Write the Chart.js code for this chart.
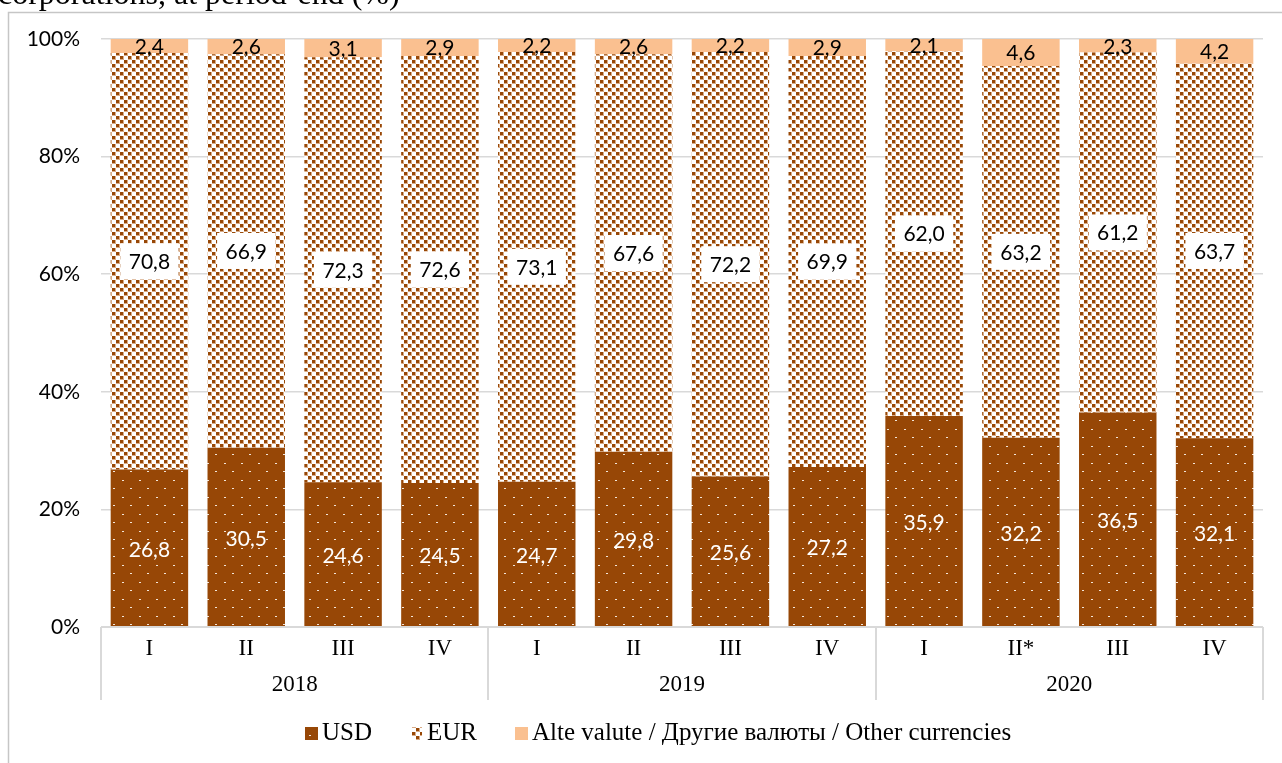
<!DOCTYPE html>
<html>
<head>
<meta charset="utf-8">
<script src="https://cdn.jsdelivr.net/npm/chart.js@4/dist/chart.umd.min.js"></script>
<style>
    html, body { margin: 0; padding: 0; background: #ffffff; }
    #wrap { width: 1282px; height: 763px; position: relative; }
</style>
</head>
<body>
<div id="wrap"><canvas id="currencyChart" width="1282" height="763"></canvas></div>
<script>
// Data
var quarters = ["I", "II", "III", "IV", "I", "II", "III", "IV", "I", "II*", "III", "IV"];
var years = ["2018", "2019", "2020"];
var usdValues = [26.8, 30.5, 24.6, 24.5, 24.7, 29.8, 25.6, 27.2, 35.9, 32.2, 36.5, 32.1];
var eurValues = [70.8, 66.9, 72.3, 72.6, 73.1, 67.6, 72.2, 69.9, 62.0, 63.2, 61.2, 63.7];
var otherValues = [2.4, 2.6, 3.1, 2.9, 2.2, 2.6, 2.2, 2.9, 2.1, 4.6, 2.3, 4.2];
var yTicks = [0, 20, 40, 60, 80, 100];
var seriesNames = ["USD", "EUR", "Alte valute / Другие валюты / Other currencies"];
var titleText = "corporations, at period-end (%)";

var BROWN = "#974706";
var LIGHT = "#fac090";
var SANS = "Lato, 'Liberation Sans', sans-serif";
var SERIF = "'Liberation Serif', 'DejaVu Serif', serif";

// small dotted fill for USD
function makeDotPattern() {
    var c = document.createElement("canvas");
    c.width = 17;
    c.height = 17;
    var g = c.getContext("2d");
    g.fillStyle = BROWN;
    g.fillRect(0, 0, 17, 17);
    g.fillStyle = "#f3e6da";
    g.fillRect(3, 4, 2, 1);
    g.fillRect(11, 12, 2, 1);
    return g.createPattern(c, "repeat");
}

// checked fill for EUR
function makeCheckPattern() {
    var c = document.createElement("canvas");
    c.width = 8;
    c.height = 8;
    var g = c.getContext("2d");
    g.fillStyle = "#ffffff";
    g.fillRect(0, 0, 8, 8);
    g.fillStyle = "#d8ab86";
    g.fillRect(0, 0, 4, 4);
    g.fillRect(4, 4, 4, 4);
    g.fillStyle = BROWN;
    g.fillRect(0, 0, 3, 3);
    g.fillRect(4, 4, 3, 3);
    return g.createPattern(c, "repeat");
}

var usdFill = makeDotPattern();
var eurFill = makeCheckPattern();

var decoPlugin = {
    id: "deco",
    beforeDraw: function (chart) {
        var ctx = chart.ctx;
        ctx.save();
        ctx.strokeStyle = "#c6c6c6";
        ctx.lineWidth = 1.5;
        ctx.strokeRect(8.5, 12.5, 1400, 900);
        ctx.fillStyle = "#000000";
        ctx.font = "32px " + SERIF;
        ctx.textAlign = "left";
        ctx.textBaseline = "alphabetic";
        ctx.fillText(titleText, -2, 4);
        ctx.restore();
    },
    afterDatasetsDraw: function (chart) {
        var ctx = chart.ctx;
        var xs = chart.scales.x;
        var area = chart.chartArea;
        ctx.save();

        // value labels
        ctx.font = "21px " + SANS;
        ctx.textAlign = "center";
        ctx.textBaseline = "middle";
        chart.data.datasets.forEach(function (ds, di) {
            var meta = chart.getDatasetMeta(di);
            meta.data.forEach(function (bar, i) {
                var text = ds.data[i].toFixed(1).replace(".", ",");
                var cy = (bar.y + bar.base) / 2;
                if (di === 0) {
                    ctx.fillStyle = "#ffffff";
                    ctx.fillText(text, bar.x, cy + 2);
                } else if (di === 1) {
                    var w = ctx.measureText(text).width + 17;
                    ctx.fillStyle = "#ffffff";
                    ctx.fillRect(bar.x - w / 2, cy - 18, w, 36);
                    ctx.fillStyle = "#000000";
                    ctx.fillText(text, bar.x, cy + 1);
                } else {
                    ctx.fillStyle = "#000000";
                    ctx.fillText(text, bar.x, cy + 1);
                }
            });
        });

        // two level category axis
        var step = xs.getPixelForValue(1) - xs.getPixelForValue(0);
        ctx.strokeStyle = "#d9d9d9";
        ctx.lineWidth = 2;
        ctx.beginPath();
        ctx.moveTo(area.left, area.bottom);
        ctx.lineTo(area.right, area.bottom);
        for (var k = 0; k <= years.length; k++) {
            var sx = Math.round(xs.getPixelForValue(k * 4) - step / 2);
            ctx.moveTo(sx, area.bottom);
            ctx.lineTo(sx, area.bottom + 73);
        }
        ctx.stroke();

        ctx.fillStyle = "#000000";
        ctx.font = "23px " + SERIF;
        ctx.textBaseline = "middle";
        quarters.forEach(function (q, i) {
            ctx.fillText(q, xs.getPixelForValue(i), area.bottom + 22);
        });
        years.forEach(function (y, k) {
            var mid = (xs.getPixelForValue(k * 4) + xs.getPixelForValue(k * 4 + 3)) / 2;
            ctx.fillText(y, mid, area.bottom + 58);
        });

        // legend
        var fills = [usdFill, eurFill, LIGHT];
        var legendY = 733;
        var x = 305;
        ctx.textAlign = "left";
        ctx.font = "25px " + SERIF;
        seriesNames.forEach(function (name, i) {
            ctx.fillStyle = fills[i];
            if (i === 1) {
                ctx.fillRect(x + 2, legendY - 6, 10, 13);
            } else {
                ctx.fillRect(x, legendY - 6, 13, 13);
            }
            ctx.fillStyle = "#000000";
            ctx.fillText(name, x + 17, legendY);
            x += 17 + ctx.measureText(name).width + 38;
        });
        ctx.restore();
    }
};

new Chart(document.getElementById("currencyChart"), {
    type: "bar",
    data: {
        labels: quarters,
        datasets: [
            { label: seriesNames[0], data: usdValues, backgroundColor: usdFill },
            { label: seriesNames[1], data: eurValues, backgroundColor: eurFill },
            { label: seriesNames[2], data: otherValues, backgroundColor: LIGHT }
        ]
    },
    options: {
        responsive: false,
        animation: false,
        events: [],
        layout: { padding: { left: 0, top: 39, right: 19, bottom: 136 } },
        datasets: { bar: { categoryPercentage: 0.8, barPercentage: 1.0, borderWidth: 0 } },
        plugins: {
            legend: { display: false },
            tooltip: { enabled: false }
        },
        scales: {
            x: { stacked: true, display: false },
            y: {
                stacked: true,
                min: 0,
                max: 100,
                afterFit: function (scale) { scale.width = 101; },
                afterBuildTicks: function (scale) {
                    scale.ticks = yTicks.map(function (v) { return { value: v }; });
                },
                border: { display: false },
                grid: { color: "#d9d9d9", lineWidth: 1.5, drawTicks: false },
                ticks: {
                    padding: 21,
                    color: "#000000",
                    font: { family: SANS, size: 21 },
                    callback: function (v) { return v + "%"; }
                }
            }
        }
    },
    plugins: [decoPlugin]
});
</script>
</body>
</html>
